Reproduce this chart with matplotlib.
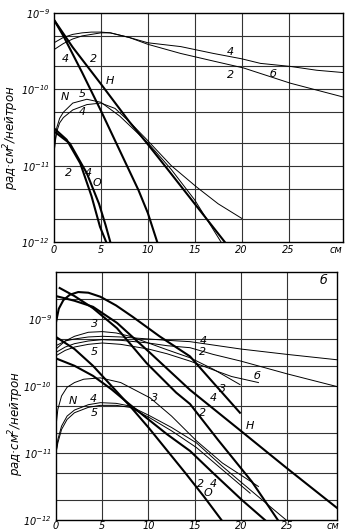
import matplotlib
matplotlib.use("Agg")
import matplotlib.pyplot as plt
import numpy as np

plt.rcParams['font.family'] = ['DejaVu Sans']
plt.rcParams['font.style'] = 'italic'
plt.rcParams['mathtext.fontset'] = 'custom'
plt.rcParams['mathtext.rm'] = 'DejaVu Sans:italic'
plt.rcParams['mathtext.it'] = 'DejaVu Sans:italic'

# ---- panel a: distances (cm) and lg of dose per neutron ----
a_h4_x = [0, 1, 3, 5, 7, 9, 10, 11]
a_h4_lg = [-9.09, -9.3, -9.78, -10.28, -10.8, -11.32, -11.62, -12.0]
a_h2_x = [0, 2, 5, 8, 10, 12, 15, 18.2]
a_h2_lg = [-9.09, -9.45, -9.93, -10.42, -10.72, -11.03, -11.5, -12.0]

a_d4_x = [0, 1, 2, 3, 4, 5, 6, 8, 10, 13.5, 17, 20, 22, 25.2, 28, 30.8]
a_d4_lg = [-9.39, -9.32, -9.28, -9.26, -9.25, -9.25, -9.26, -9.32, -9.39, -9.44, -9.53, -9.6, -9.66, -9.7, -9.75, -9.78]
a_d2_x = [0, 1, 2, 3, 4, 5, 6, 8, 10, 13.5, 17, 20.2, 25.2, 30.8]
a_d2_lg = [-9.48, -9.4, -9.34, -9.3, -9.28, -9.26, -9.26, -9.32, -9.41, -9.53, -9.63, -9.72, -9.92, -10.1]

a_n5_x = [0, 0.1, 0.3, 0.6, 1, 2, 3.5, 5, 7, 10, 12.5, 15, 17.8]
a_n5_lg = [-10.85, -10.7, -10.5, -10.38, -10.3, -10.18, -10.13, -10.17, -10.35, -10.7, -11.05, -11.45, -12.0]
a_n4_x = [0, 0.1, 0.3, 0.6, 1, 2, 3.5, 5, 6.5, 8, 9.9, 12.5, 15.2, 17.5, 20]
a_n4_lg = [-10.85, -10.72, -10.55, -10.44, -10.37, -10.27, -10.2, -10.18, -10.25, -10.42, -10.66, -11.0, -11.28, -11.5, -11.69]

a_o2_x = [0, 1.35, 2.8, 4.0, 4.9, 5.56]
a_o2_lg = [-10.51, -10.66, -10.97, -11.4, -11.8, -12.0]
a_o4_x = [0, 1.7, 3.5, 4.8, 5.5, 6.0]
a_o4_lg = [-10.55, -10.71, -11.1, -11.5, -11.78, -12.0]

# ---- panel б ----
b_h3_x = [0, 0.3, 0.8, 1.5, 2.4, 3.5, 4.8, 6.5, 8.3, 11.2, 14.5, 17, 19.9]
b_h3_lg = [-9.05, -8.85, -8.72, -8.64, -8.6, -8.61, -8.67, -8.8, -8.97, -9.26, -9.56, -9.95, -10.4]
b_h4_x = [0, 2, 4, 6.6, 10.2, 14.5, 19.9, 25, 30.4]
b_h4_lg = [-8.66, -8.73, -8.82, -9.06, -9.51, -10.06, -10.66, -11.23, -11.82]
b_h2_x = [0.4, 2, 4, 6.6, 9.8, 13.0, 14.5, 17.5, 21.2, 24]
b_h2_lg = [-8.54, -8.66, -8.84, -9.14, -9.66, -10.1, -10.27, -10.8, -11.43, -12.0]

b_d3_x = [0, 1, 2, 3.5, 5, 6.5, 8, 10, 12, 14.5, 17, 19.9]
b_d3_lg = [-9.45, -9.33, -9.26, -9.2, -9.19, -9.21, -9.26, -9.36, -9.46, -9.58, -9.75, -9.98]
b_d4_x = [0, 1, 2, 3.5, 5, 7, 10, 12, 14.5, 17, 20, 25, 30.4]
b_d4_lg = [-9.4, -9.33, -9.3, -9.27, -9.26, -9.27, -9.3, -9.32, -9.34, -9.39, -9.45, -9.53, -9.61]
b_d2_x = [0, 1, 2, 3.5, 5, 7, 10, 12, 14.5, 17, 20, 25, 30.4]
b_d2_lg = [-9.5, -9.42, -9.37, -9.33, -9.31, -9.32, -9.36, -9.4, -9.43, -9.53, -9.63, -9.82, -10.01]
b_d5_x = [0, 1, 2, 3.5, 5, 7, 10, 12, 14.5, 17, 19, 21.9]
b_d5_lg = [-9.55, -9.47, -9.42, -9.38, -9.36, -9.38, -9.45, -9.52, -9.63, -9.76, -9.86, -9.95]

b_n3_x = [0, 0.2, 0.6, 1.2, 2, 3, 4.8, 7, 10.2, 12.5, 15.2, 18, 21.9]
b_n3_lg = [-10.6, -10.35, -10.15, -10.02, -9.95, -9.9, -9.88, -9.95, -10.18, -10.45, -10.82, -11.15, -11.5]
b_n4_x = [0, 0.2, 0.6, 1.2, 2, 3.5, 4.8, 6.5, 8, 10.2, 12.5, 15.2, 18, 21, 24.9]
b_n4_lg = [-11.0, -10.8, -10.6, -10.45, -10.36, -10.28, -10.25, -10.26, -10.3, -10.45, -10.62, -10.85, -11.2, -11.55, -12.0]
b_n5_x = [0, 0.2, 0.6, 1.2, 2, 3.5, 4.8, 6.5, 8, 10.2, 12.5, 15.2, 18, 21]
b_n5_lg = [-11.0, -10.85, -10.65, -10.5, -10.4, -10.32, -10.29, -10.29, -10.32, -10.48, -10.67, -10.92, -11.25, -11.6]

b_o2_x = [0, 2, 4, 6, 8, 10, 12, 14, 16, 17.9]
b_o2_lg = [-9.27, -9.45, -9.7, -10.0, -10.3, -10.62, -10.96, -11.3, -11.65, -12.0]
b_o4_x = [0, 2, 4, 6, 8, 10, 12, 14.5, 17, 20.1, 22.6]
b_o4_lg = [-9.59, -9.7, -9.85, -10.05, -10.28, -10.5, -10.72, -10.97, -11.3, -11.7, -12.0]

a_thick = [(a_h4_x, a_h4_lg), (a_h2_x, a_h2_lg), (a_o2_x, a_o2_lg), (a_o4_x, a_o4_lg)]
a_thin = [(a_d4_x, a_d4_lg), (a_d2_x, a_d2_lg), (a_n5_x, a_n5_lg), (a_n4_x, a_n4_lg)]
b_thick = [(b_h3_x, b_h3_lg), (b_h4_x, b_h4_lg), (b_h2_x, b_h2_lg), (b_o2_x, b_o2_lg), (b_o4_x, b_o4_lg)]
b_thin = [(b_d3_x, b_d3_lg), (b_d4_x, b_d4_lg), (b_d2_x, b_d2_lg), (b_d5_x, b_d5_lg),
          (b_n3_x, b_n3_lg), (b_n4_x, b_n4_lg), (b_n5_x, b_n5_lg)]

# curve labels: text, x (cm), value
a_labels = [("4", 1.2, 2.5e-10), ("2", 4.2, 2.5e-10), ("H", 6.0, 1.3e-10),
            ("N", 1.2, 8e-11), ("5", 3.0, 8.7e-11), ("4", 3.0, 5e-11),
            ("2", 1.5, 8e-12), ("4", 3.7, 8e-12), ("O", 4.6, 5.9e-12),
            ("4", 18.8, 3.1e-10), ("2", 18.8, 1.55e-10), ("б", 23.4, 1.6e-10)]
b_labels = [("3", 4.2, 8.3e-10), ("5", 4.2, 3.2e-10), ("N", 1.8, 5.9e-11),
            ("4", 4.0, 6.3e-11), ("5", 4.2, 4e-11), ("3", 10.7, 6.6e-11),
            ("4", 15.9, 4.6e-10), ("2", 15.9, 3.2e-10), ("б", 21.7, 1.4e-10),
            ("3", 18.0, 9.1e-11), ("4", 17.0, 6.6e-11), ("2", 15.8, 4e-11),
            ("H", 21.0, 2.5e-11), ("2", 15.6, 3.5e-12), ("4", 17.0, 3.5e-12),
            ("O", 16.4, 2.5e-12)]

x_ticks = [0, 5, 10, 15, 20, 25, 30]
x_ticklabels = ["0", "5", "10", "15", "20", "25", "см"]
x_grid = [5, 10, 15, 20, 25]
ylabel = "рад·см$^2$/нейтрон"


def setup(ax, xmax, ymax, decades, xpad):
    ax.set_yscale('log')
    ax.set_xlim(0, xmax)
    ax.set_ylim(1e-12, ymax)
    for xv in x_grid:
        ax.axvline(xv, color='0.2', lw=0.8, zorder=1)
    for d in range(-12, -8):
        for m in (1, 2, 5):
            v = m * 10.0 ** d
            if 1e-12 < v < ymax:
                ax.axhline(v, color='0.2', lw=0.8, zorder=1)
    ax.set_xticks(x_ticks)
    ax.set_xticklabels(x_ticklabels)
    ax.set_yticks([10.0 ** d for d in decades])
    ax.set_yticklabels([r"$10^{%d}$" % d for d in decades])
    ax.yaxis.set_minor_locator(matplotlib.ticker.NullLocator())
    ax.tick_params(length=0, labelsize=7.0)
    ax.tick_params(axis='x', pad=xpad)
    ax.tick_params(axis='y', pad=3)
    for s in ax.spines.values():
        s.set_linewidth(1.0)


def draw(ax, thick, thin, labels):
    for xs, lg in thick:
        ax.plot(xs, np.power(10.0, lg), color='k', lw=1.5, zorder=3)
    for xs, lg in thin:
        ax.plot(xs, np.power(10.0, lg), color='k', lw=0.7, zorder=3)
    for t, x, y in labels:
        ax.text(x, y, t, fontsize=8, ha='center', va='center', zorder=4)


fig = plt.figure(figsize=(3.47, 5.32), dpi=100)
ax1 = fig.add_axes([54 / 347, 1 - 242 / 532, 289 / 347, 229 / 532])
ax2 = fig.add_axes([56 / 347, 1 - 520 / 532, 281 / 347, 248 / 532])

setup(ax1, 30.8, 1e-9, [-12, -11, -10, -9], 2)
setup(ax2, 30.4, 5e-9, [-12, -11, -10, -9], 0.5)
draw(ax1, a_thick, a_thin, a_labels)
draw(ax2, b_thick, b_thin, b_labels)
ax2.text(28.9, 3.7e-9, "б", fontsize=9, ha='center', va='center')

fig.text(11 / 347, 1 - 138 / 532, ylabel, rotation=90, fontsize=8.5, ha='center', va='center')
fig.text(16 / 347, 1 - 424 / 532, ylabel, rotation=90, fontsize=8.5, ha='center', va='center')

fig.savefig("out.png", dpi=100)
